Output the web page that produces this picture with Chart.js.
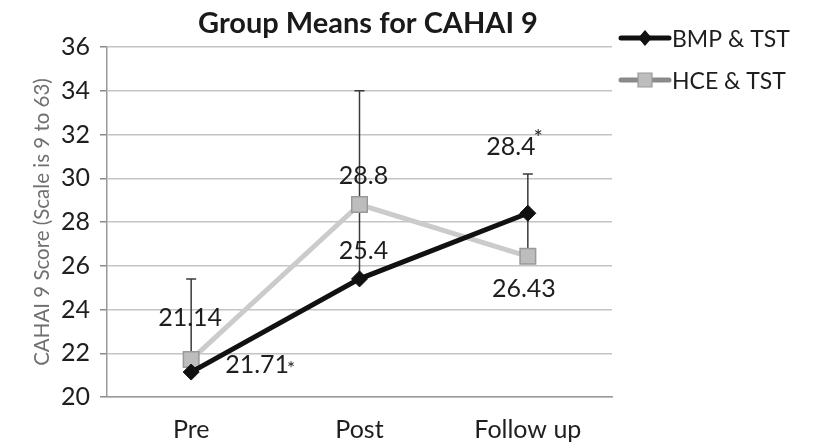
<!DOCTYPE html>
<html>
<head>
<meta charset="utf-8">
<script src="https://cdn.jsdelivr.net/npm/chart.js@4/dist/chart.umd.min.js"></script>
<style>
  html, body { margin: 0; padding: 0; background: #fff; }
  #wrap { width: 820px; height: 446px; position: relative; }
</style>
</head>
<body>
<div id="wrap"><canvas id="c" width="820" height="446"></canvas></div>
<script>
// Session labels along the x axis
const categories = ['Pre', 'Post', 'Follow up'];

// Group means per session
const bmpValues = [21.14, 25.4, 28.4];
const hceValues = [21.71, 28.8, 26.43];

// Significance markers printed next to the value labels
const bmpMarks = ['', '', '*'];
const hceMarks = ['*', '', ''];

// Error whiskers per session (from / to, in score units)
const whiskerFrom = [21.71, 25.4, 26.43];
const whiskerTo = [25.4, 34, 30.2];

// Y scale
const yMin = 20;
const yMax = 36;
const yStep = 2;

const seriesNames = ['BMP & TST', 'HCE & TST'];
const chartTitle = 'Group Means for CAHAI 9';
const yTitle = 'CAHAI 9 Score (Scale is 9 to 63)';
const FONT = 'Lato, "Open Sans", sans-serif';

// Label placement relative to each point (dx, dy in px)
const labelOffsets = [
  [[-1, -54], [4, -28], [-17, -66]],
  [[66, 5], [4, -29], [-4, 33]]
];

const whiskerPlugin = {
  id: 'whiskers',
  beforeDatasetsDraw(chart) {
    const { ctx, scales } = chart;
    ctx.save();
    ctx.strokeStyle = '#3a3a3a';
    ctx.lineWidth = 1.5;
    whiskerFrom.forEach((v, i) => {
      const x = scales.x.getPixelForValue(i);
      const y1 = scales.y.getPixelForValue(v);
      const y2 = scales.y.getPixelForValue(whiskerTo[i]);
      ctx.beginPath();
      ctx.moveTo(x, y1);
      ctx.lineTo(x, y2);
      ctx.moveTo(x - 5, y2);
      ctx.lineTo(x + 5, y2);
      ctx.stroke();
    });
    ctx.restore();
  }
};

const valueLabelPlugin = {
  id: 'valueLabels',
  afterDatasetsDraw(chart) {
    const { ctx } = chart;
    const marks = [bmpMarks, hceMarks];
    ctx.save();
    ctx.fillStyle = '#1e1e1e';
    ctx.textBaseline = 'middle';
    ctx.textAlign = 'center';
    chart.data.datasets.forEach((ds, di) => {
      const meta = chart.getDatasetMeta(di);
      meta.data.forEach((pt, i) => {
        const [dx, dy] = labelOffsets[di][i];
        const text = String(ds.data[i]);
        ctx.font = '25px ' + FONT;
        const cx = pt.x + dx, cy = pt.y + dy;
        ctx.fillText(text, cx, cy);
        const m = marks[di][i];
        if (m) {
          const w = ctx.measureText(text).width;
          ctx.font = (di === 0 ? '22px ' : '19px ') + FONT;
          ctx.textAlign = 'left';
          const up = (di === 0) ? -9 : 4;
          ctx.fillText(m, cx + w / 2 - 2, cy + up);
          ctx.textAlign = 'center';
        }
      });
    });
    ctx.restore();
  }
};

const titleLegendPlugin = {
  id: 'titleLegend',
  afterDraw(chart) {
    const { ctx } = chart;
    ctx.save();
    // Chart title
    ctx.fillStyle = '#1a1a1a';
    ctx.font = 'bold 29px ' + FONT;
    ctx.textAlign = 'center';
    ctx.textBaseline = 'middle';
    ctx.fillText(chartTitle, 368, 24);

    // Vertical axis title
    ctx.save();
    ctx.translate(42, 222);
    ctx.rotate(-Math.PI / 2);
    ctx.fillStyle = '#707070';
    ctx.font = '20.5px ' + FONT;
    ctx.fillText(yTitle, 0, 0);
    ctx.restore();

    // Legend entries
    const rows = [
      { y: 38, line: '#111111', width: 5, shape: 'diamond', fill: '#111111', stroke: '#111111' },
      { y: 80, line: '#8a8a8a', width: 5, shape: 'square', fill: '#bdbdbd', stroke: '#999999' }
    ];
    rows.forEach((r, i) => {
      ctx.strokeStyle = r.line;
      ctx.lineWidth = r.width;
      ctx.lineCap = 'round';
      ctx.beginPath();
      ctx.moveTo(621, r.y);
      ctx.lineTo(669, r.y);
      ctx.stroke();
      ctx.fillStyle = r.fill;
      ctx.strokeStyle = r.stroke;
      ctx.lineWidth = 1.2;
      ctx.beginPath();
      if (r.shape === 'diamond') {
        ctx.moveTo(645, r.y - 7);
        ctx.lineTo(651, r.y);
        ctx.lineTo(645, r.y + 7);
        ctx.lineTo(639, r.y);
        ctx.closePath();
      } else {
        ctx.rect(638, r.y - 7, 14, 14);
      }
      ctx.fill();
      ctx.stroke();
      ctx.fillStyle = '#1e1e1e';
      ctx.font = '23px ' + FONT;
      ctx.textAlign = 'left';
      ctx.textBaseline = 'middle';
      ctx.fillText(seriesNames[i], 672, r.y + 2);
    });
    ctx.restore();
  }
};

new Chart(document.getElementById('c'), {
  type: 'line',
  data: {
    labels: categories,
    datasets: [
      {
        label: seriesNames[0],
        data: bmpValues,
        borderColor: '#111111',
        backgroundColor: '#111111',
        borderWidth: 5,
        pointStyle: 'rectRot',
        pointRadius: 8,
        pointBorderWidth: 1,
        pointBackgroundColor: '#111111',
        pointBorderColor: '#111111',
        tension: 0
      },
      {
        label: seriesNames[1],
        data: hceValues,
        borderColor: '#cbcbcb',
        backgroundColor: '#bdbdbd',
        borderWidth: 5,
        pointStyle: 'rect',
        pointRadius: 11,
        pointBorderWidth: 1.5,
        pointBackgroundColor: '#bdbdbd',
        pointBorderColor: '#999999',
        tension: 0
      }
    ]
  },
  options: {
    responsive: false,
    animation: false,
    layout: { padding: { top: 47, right: 208, bottom: 0, left: 0 } },
    plugins: {
      legend: { display: false },
      title: { display: false },
      tooltip: { enabled: false }
    },
    scales: {
      x: {
        type: 'category',
        offset: true,
        grid: { display: false, drawTicks: false },
        border: { display: true, color: '#9a9a9a', width: 1.5 },
        ticks: {
          color: '#1e1e1e',
          font: { family: FONT, size: 25 },
          padding: 18
        },
        afterFit(scale) { scale.height = 49; }
      },
      y: {
        min: yMin,
        max: yMax,
        ticks: {
          stepSize: yStep,
          color: '#1e1e1e',
          font: { family: FONT, size: 25 },
          padding: 10
        },
        grid: {
          color: '#c4c4c4',
          lineWidth: 1.5,
          tickLength: 7,
          tickColor: '#8a8a8a'
        },
        border: { display: true, color: '#9a9a9a', width: 1.5 },
        afterFit(scale) { scale.width = 107; }
      }
    }
  },
  plugins: [whiskerPlugin, valueLabelPlugin, titleLegendPlugin]
});
</script>
</body>
</html>
